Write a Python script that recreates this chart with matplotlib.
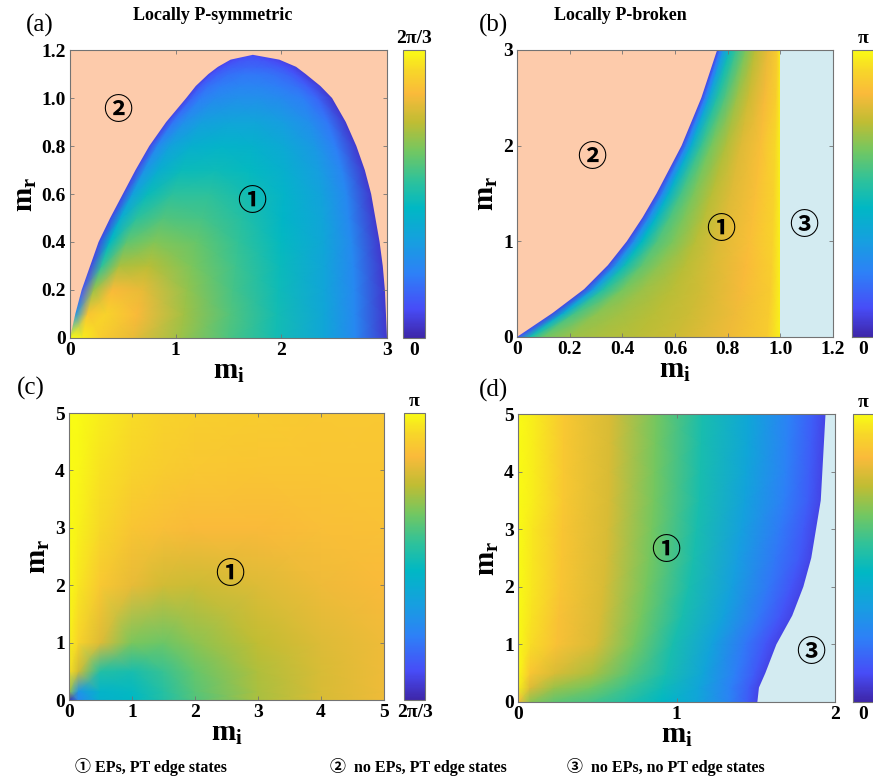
import numpy as np
import matplotlib
matplotlib.use('Agg')
import matplotlib.pyplot as plt
from matplotlib.colors import LinearSegmentedColormap, Normalize
from matplotlib.cm import ScalarMappable

plt.rcParams['font.family'] = ['Liberation Serif', 'Noto Sans CJK SC', 'DejaVu Sans']
plt.rcParams['mathtext.fontset'] = 'custom'
plt.rcParams['mathtext.rm'] = 'Liberation Serif'
plt.rcParams['mathtext.bf'] = 'Liberation Serif:bold'

# phase values scaled to 0..1 of each colour bar, read row by row.
# each row runs from the left edge of region 1 to its right edge,
# sampled at the fractions in *_s

# (a) locally P-symmetric
a_y = [0, 0.1, 0.2, 0.3, 0.4, 0.5, 0.6, 0.7, 0.8, 0.9, 1.0, 1.05, 1.1, 1.13, 1.16, 1.18]
a_left = [0, 0.05, 0.11, 0.19, 0.27, 0.38, 0.50, 0.62, 0.75, 0.91, 1.10, 1.19, 1.31, 1.40, 1.52, 1.73]
a_right = [3.0, 2.99, 2.98, 2.96, 2.93, 2.89, 2.85, 2.79, 2.71, 2.61, 2.48, 2.37, 2.23, 2.14, 1.98, 1.73]
a_s = [0, 0.04, 0.1, 0.2, 0.35, 0.5, 0.65, 0.8, 0.9, 1.0]
a_v = [[1.0, 0.97, 0.9, 0.82, 0.7, 0.59, 0.49, 0.37, 0.25, 0.05],
       [0.3, 0.88, 0.92, 0.85, 0.71, 0.6, 0.49, 0.37, 0.25, 0.05],
       [0.12, 0.7, 0.85, 0.82, 0.69, 0.58, 0.48, 0.36, 0.25, 0.05],
       [0.08, 0.55, 0.72, 0.74, 0.66, 0.57, 0.47, 0.36, 0.25, 0.05],
       [0.08, 0.45, 0.62, 0.67, 0.63, 0.55, 0.46, 0.37, 0.26, 0.05],
       [0.08, 0.4, 0.54, 0.6, 0.58, 0.52, 0.44, 0.36, 0.25, 0.05],
       [0.08, 0.35, 0.47, 0.54, 0.54, 0.49, 0.43, 0.35, 0.25, 0.05],
       [0.08, 0.3, 0.4, 0.47, 0.48, 0.46, 0.41, 0.33, 0.24, 0.05],
       [0.08, 0.26, 0.35, 0.41, 0.43, 0.42, 0.38, 0.31, 0.22, 0.05],
       [0.08, 0.2, 0.28, 0.34, 0.36, 0.36, 0.33, 0.27, 0.2, 0.05],
       [0.08, 0.16, 0.22, 0.26, 0.28, 0.28, 0.26, 0.22, 0.16, 0.05],
       [0.08, 0.14, 0.19, 0.22, 0.24, 0.24, 0.22, 0.19, 0.14, 0.06],
       [0.08, 0.12, 0.15, 0.18, 0.2, 0.2, 0.19, 0.16, 0.12, 0.06],
       [0.08, 0.1, 0.13, 0.15, 0.16, 0.16, 0.15, 0.13, 0.1, 0.07],
       [0.08, 0.09, 0.1, 0.12, 0.13, 0.13, 0.12, 0.1, 0.09, 0.08],
       [0.1, 0.1, 0.1, 0.1, 0.1, 0.1, 0.1, 0.1, 0.1, 0.1]]

# (b) locally P-broken, region 1 between the curve and m_i = 1
b_y = [0, 0.25, 0.5, 0.75, 1.0, 1.25, 1.5, 2.0, 2.5, 3.0]
b_left = [0, 0.135, 0.255, 0.345, 0.417, 0.477, 0.53, 0.625, 0.70, 0.76]
b_gap = 1.0
b_s = [0, 0.05, 0.1, 0.2, 0.3, 0.45, 0.6, 0.8, 0.95, 1.0]
b_v = [[0.1, 0.5, 0.64, 0.7, 0.72, 0.74, 0.77, 0.83, 0.9, 0.98],
       [0.08, 0.4, 0.58, 0.68, 0.71, 0.74, 0.77, 0.83, 0.9, 0.98],
       [0.08, 0.33, 0.52, 0.65, 0.7, 0.74, 0.78, 0.84, 0.9, 0.98],
       [0.08, 0.3, 0.48, 0.62, 0.68, 0.74, 0.79, 0.85, 0.91, 0.98],
       [0.08, 0.28, 0.45, 0.6, 0.66, 0.74, 0.8, 0.86, 0.92, 0.98],
       [0.08, 0.27, 0.43, 0.59, 0.66, 0.74, 0.8, 0.86, 0.92, 0.98],
       [0.08, 0.26, 0.42, 0.58, 0.66, 0.74, 0.8, 0.86, 0.92, 0.98],
       [0.08, 0.25, 0.4, 0.56, 0.65, 0.73, 0.8, 0.86, 0.93, 0.98],
       [0.08, 0.22, 0.36, 0.52, 0.6, 0.7, 0.77, 0.84, 0.91, 0.98],
       [0.08, 0.2, 0.32, 0.48, 0.56, 0.66, 0.74, 0.82, 0.9, 0.98]]

# (c) plain grid
c_x = [0, 0.15, 0.5, 1, 1.5, 2, 3, 4, 5]
c_y = [0, 0.15, 0.5, 1, 2, 3, 4, 5]
c_v = [[0.0, 0.25, 0.42, 0.45, 0.52, 0.6, 0.72, 0.79, 0.83],
       [0.7, 0.3, 0.43, 0.46, 0.53, 0.61, 0.72, 0.79, 0.83],
       [0.95, 0.78, 0.52, 0.5, 0.56, 0.63, 0.73, 0.79, 0.83],
       [0.98, 0.92, 0.8, 0.66, 0.64, 0.68, 0.75, 0.8, 0.83],
       [1.0, 0.96, 0.89, 0.82, 0.78, 0.77, 0.8, 0.83, 0.85],
       [1.0, 0.98, 0.93, 0.88, 0.86, 0.85, 0.85, 0.86, 0.87],
       [1.0, 0.99, 0.95, 0.92, 0.9, 0.89, 0.88, 0.88, 0.88],
       [1.0, 1.0, 0.97, 0.94, 0.92, 0.91, 0.9, 0.89, 0.89]]

# (d) region 1 between m_i = 0 and the curve
d_y = [0, 0.25, 0.5, 1.0, 1.5, 2.0, 2.5, 3.0, 3.5, 4.0, 4.5, 5.0]
d_right = [1.51, 1.52, 1.56, 1.63, 1.73, 1.80, 1.85, 1.88, 1.91, 1.92, 1.93, 1.94]
d_s = [0, 0.05, 0.15, 0.3, 0.45, 0.6, 0.75, 0.88, 0.96, 1.0]
d_v = [[0.85, 0.68, 0.62, 0.58, 0.52, 0.45, 0.36, 0.24, 0.14, 0.08],
       [0.98, 0.8, 0.7, 0.65, 0.57, 0.48, 0.36, 0.23, 0.14, 0.08],
       [1.0, 0.88, 0.79, 0.72, 0.61, 0.5, 0.36, 0.22, 0.13, 0.08],
       [1.0, 0.94, 0.87, 0.79, 0.65, 0.5, 0.35, 0.2, 0.12, 0.08],
       [1.0, 0.95, 0.87, 0.79, 0.65, 0.5, 0.35, 0.2, 0.12, 0.08],
       [1.0, 0.96, 0.88, 0.79, 0.65, 0.5, 0.34, 0.2, 0.12, 0.08],
       [1.0, 0.96, 0.88, 0.79, 0.65, 0.5, 0.33, 0.2, 0.13, 0.08],
       [1.0, 0.96, 0.88, 0.79, 0.65, 0.5, 0.34, 0.21, 0.13, 0.08],
       [1.0, 0.97, 0.89, 0.79, 0.65, 0.5, 0.35, 0.22, 0.14, 0.08],
       [1.0, 0.97, 0.89, 0.79, 0.65, 0.5, 0.36, 0.23, 0.14, 0.08],
       [1.0, 0.97, 0.89, 0.79, 0.65, 0.5, 0.37, 0.23, 0.14, 0.08],
       [1.0, 0.97, 0.89, 0.79, 0.65, 0.5, 0.37, 0.23, 0.14, 0.08]]

legend_items = ['\u2460 EPs, PT edge states', '\u2461  no EPs, PT edge states',
                '\u2462  no EPs, no PT edge states']

parula = LinearSegmentedColormap.from_list('parula', [
    (0.00, (0.242, 0.150, 0.660)), (0.10, (0.280, 0.300, 0.970)),
    (0.22, (0.180, 0.500, 0.970)), (0.33, (0.090, 0.620, 0.880)),
    (0.45, (0.000, 0.720, 0.770)), (0.55, (0.190, 0.760, 0.600)),
    (0.65, (0.450, 0.780, 0.380)), (0.75, (0.750, 0.740, 0.200)),
    (0.85, (0.980, 0.730, 0.230)), (0.93, (0.970, 0.840, 0.160)),
    (1.00, (0.976, 0.984, 0.080))])
peach = '#fdcbab'
light = '#d3ebf1'
frame = '0.45'


def band(ax, ys, left, right, s, v):
    left = np.asarray(left, float)[:, None]
    right = np.broadcast_to(np.asarray(right, float), (len(ys),))[:, None]
    X = left + np.asarray(s)[None, :] * (right - left)
    Y = np.repeat(np.asarray(ys, float)[:, None], len(s), axis=1)
    ax.set_facecolor(parula(0.08))
    ax.pcolormesh(X, Y, np.asarray(v), shading='gouraud', cmap=parula, vmin=0, vmax=1)


def style(ax, xlim, ylim, xt, xl, yt, yl):
    ax.set_xlim(*xlim)
    ax.set_ylim(*ylim)
    ax.set_xticks(xt, xl)
    ax.set_yticks(yt, yl)
    ax.tick_params(direction='in', length=3, width=0.6, top=True, right=True,
                   color=frame, labelsize=14, pad=3)
    for lab in ax.get_xticklabels() + ax.get_yticklabels():
        lab.set_fontweight('bold')
    for sp in ax.spines.values():
        sp.set_color(frame)
        sp.set_linewidth(0.8)
    ax.set_xlabel(r'$\mathbf{m}_{\mathbf{i}}$', fontsize=21, labelpad=0)
    ax.set_ylabel(r'$\mathbf{m}_{\mathbf{r}}$', fontsize=21, labelpad=2)


def cbar(fig, rect, top, bottom):
    cax = fig.add_axes(rect)
    cb = fig.colorbar(ScalarMappable(Normalize(0, 1), parula), cax=cax)
    cb.set_ticks([])
    cb.outline.set_edgecolor(frame)
    cb.outline.set_linewidth(0.8)
    cax.text(0.5, 1.01, top, transform=cax.transAxes, ha='center', va='bottom',
             fontsize=14, fontweight='bold')
    cax.text(0.5, -0.015, bottom, transform=cax.transAxes, ha='center', va='top',
             fontsize=14, fontweight='bold')


def mark(ax, x, y, s):
    ax.text(x, y, s, ha='center', va='center', fontsize=21, fontweight='bold',
            family=['Noto Sans CJK SC', 'DejaVu Sans'], zorder=5)


fig = plt.figure(figsize=(8.73, 7.84), dpi=100)

# (a)
ax = fig.add_axes([0.0802, 0.5689, 0.3631, 0.3673])
band(ax, a_y, a_left, a_right, a_s, a_v)
ax.fill(a_left + a_right[::-1] + [3, 0], a_y + a_y[::-1] + [1.2, 1.2], color=peach, lw=0)
style(ax, (0, 3), (0, 1.2), [0, 1, 2, 3], ['0', '1', '2', '3'],
      [0, 0.2, 0.4, 0.6, 0.8, 1.0, 1.2], ['0', '0.2', '0.4', '0.6', '0.8', '1.0', '1.2'])
mark(ax, 0.45, 0.95, '\u2461')
mark(ax, 1.72, 0.57, '\u2460')
cbar(fig, [0.4616, 0.5689, 0.0252, 0.3673], '2π/3', '0')

# (b)
ax = fig.add_axes([0.5922, 0.5702, 0.3620, 0.3661])
band(ax, b_y, b_left, b_gap, b_s, b_v)
ax.fill(b_left + [0], b_y + [3], color=peach, lw=0)
ax.axvspan(b_gap, 1.2, color=light, lw=0)
style(ax, (0, 1.2), (0, 3), [0, 0.2, 0.4, 0.6, 0.8, 1.0, 1.2],
      ['0', '0.2', '0.4', '0.6', '0.8', '1.0', '1.2'], [0, 1, 2, 3], ['0', '1', '2', '3'])
mark(ax, 0.284, 1.88, '\u2461')
mark(ax, 0.773, 1.13, '\u2460')
mark(ax, 1.089, 1.17, '\u2462')
cbar(fig, [0.9760, 0.5702, 0.0252, 0.3661], 'π', '0')

# (c)
ax = fig.add_axes([0.0790, 0.1071, 0.3608, 0.3661])
ax.pcolormesh(c_x, c_y, c_v, shading='gouraud', cmap=parula, vmin=0, vmax=1)
style(ax, (0, 5), (0, 5), range(6), [str(i) for i in range(6)],
      range(6), [str(i) for i in range(6)])
mark(ax, 2.55, 2.2, '\u2460')
cbar(fig, [0.4628, 0.1071, 0.0241, 0.3661], 'π', '2π/3')

# (d)
ax = fig.add_axes([0.5934, 0.1046, 0.3631, 0.3673])
band(ax, d_y, [0] * len(d_y), d_right, d_s, d_v)
ax.fill(d_right + [2, 2], d_y + [5, 0], color=light, lw=0)
style(ax, (0, 2), (0, 5), [0, 1, 2], ['0', '1', '2'],
      range(6), [str(i) for i in range(6)])
mark(ax, 0.93, 2.64, '\u2460')
mark(ax, 1.85, 0.87, '\u2462')
cbar(fig, [0.9771, 0.1046, 0.0241, 0.3673], 'π', '0')

# titles and panel letters
fig.text(213 / 873, 1 - 15 / 784, 'Locally P-symmetric', ha='center', va='center',
         fontsize=13, fontweight='bold')
fig.text(620 / 873, 1 - 15 / 784, 'Locally P-broken', ha='center', va='center',
         fontsize=13, fontweight='bold')
for lab, x, y in [('(a)', 40, 25), ('(b)', 494, 25), ('(c)', 31, 388), ('(d)', 493, 390)]:
    fig.text(x / 873, 1 - y / 784, lab, ha='center', va='center', fontsize=18)

for s, x in zip(legend_items, [75, 330, 567]):
    fig.text(x / 873, 1 - 767 / 784, s, ha='left', va='center', fontsize=11.5,
             fontweight='bold')

fig.savefig('out.png', dpi=100)
